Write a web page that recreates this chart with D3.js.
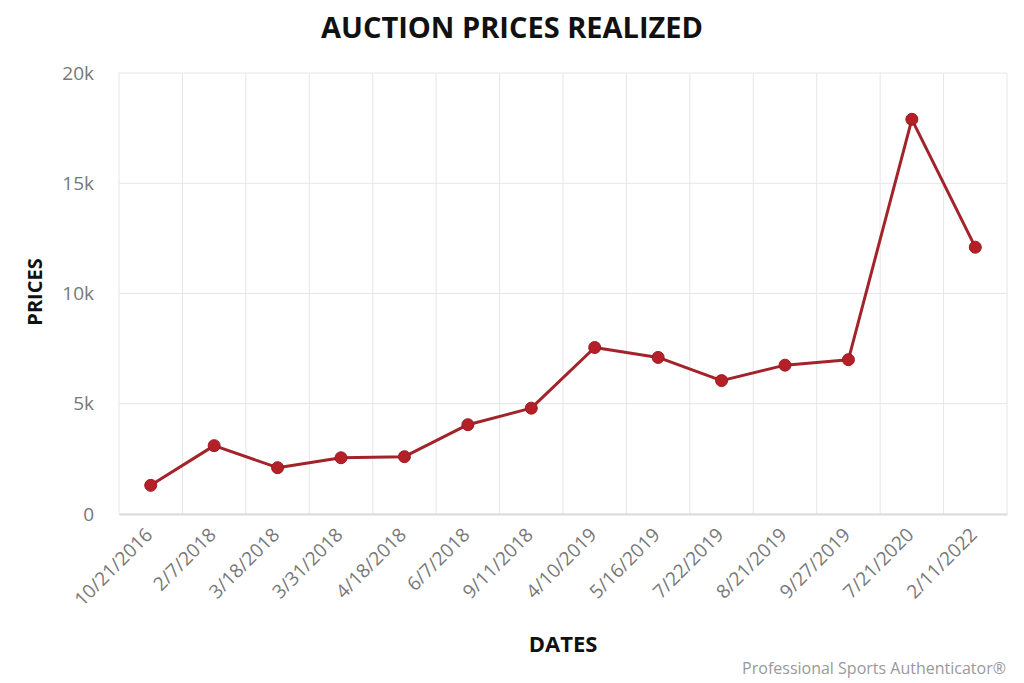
<!DOCTYPE html>
<html><head><meta charset="utf-8">
<script src="https://cdn.jsdelivr.net/npm/d3@7/dist/d3.min.js"></script>
<style>body{margin:0;background:#fff;} svg{display:block;font-family:"Open Sans",sans-serif;}</style>
</head><body>
<script>
const dates = ["10/21/2016","2/7/2018","3/18/2018","3/31/2018","4/18/2018","6/7/2018","9/11/2018","4/10/2019","5/16/2019","7/22/2019","8/21/2019","9/27/2019","7/21/2020","2/11/2022"];
const prices = [1300,3100,2100,2550,2600,4050,4800,7550,7100,6050,6750,7000,17900,12100];
const yTicks = [0,5000,10000,15000,20000];
const yTickLabels = ["0","5k","10k","15k","20k"];

const W=1024,H=683;
const m={l:119,r:17,t:73,b:169};
const svg=d3.select("body").append("svg").attr("width",W).attr("height",H);
const x=d3.scaleBand().domain(dates).range([m.l,W-m.r]);
const y=d3.scaleLinear().domain([0,20000]).range([H-m.b,m.t]);

// horizontal grid
svg.append("g").selectAll("line").data(yTicks).join("line")
  .attr("x1",m.l).attr("x2",W-m.r).attr("y1",d=>y(d)).attr("y2",d=>y(d))
  .attr("stroke","#e6e6e6").attr("stroke-width",1);
// vertical grid at band boundaries
const bounds=dates.map(d=>x(d)).concat([W-m.r]);
svg.append("g").selectAll("line").data(bounds).join("line")
  .attr("x1",d=>d).attr("x2",d=>d).attr("y1",m.t).attr("y2",H-m.b)
  .attr("stroke","#e6e6e6").attr("stroke-width",1);

// x axis
const xa=svg.append("g").attr("transform",`translate(0,${H-m.b})`)
  .call(d3.axisBottom(x).tickSize(0).tickPadding(0));
xa.attr("font-family","Open Sans").attr("font-size",19);
xa.select(".domain").attr("stroke","#dcdcdc").attr("stroke-width",2);
xa.selectAll("text").attr("fill","#777")
  .attr("text-anchor","end").attr("dy",0)
  .attr("transform","translate(3,22) rotate(-45)");

// y axis labels
svg.append("g").attr("font-family","Open Sans").selectAll("text").data(yTicks).join("text")
  .attr("x",94).attr("y",d=>y(d)).attr("dy","0.35em").attr("text-anchor","end")
  .attr("font-size",19).attr("fill","#777").text((d,i)=>yTickLabels[i]);

// line
const line=d3.line().x((d,i)=>x(dates[i])+x.bandwidth()/2).y(d=>y(d));
svg.append("path").datum(prices).attr("d",line).attr("fill","none")
  .attr("stroke","#a3232a").attr("stroke-width",3).attr("stroke-linejoin","round");
svg.append("g").selectAll("circle").data(prices).join("circle")
  .attr("cx",(d,i)=>x(dates[i])+x.bandwidth()/2).attr("cy",d=>y(d)).attr("r",6)
  .attr("fill","#b51f27").attr("stroke","#9a1c22").attr("stroke-width",1);

// titles
svg.append("text").attr("x",512).attr("y",38).attr("text-anchor","middle")
  .attr("font-size",29).attr("font-weight","bold").attr("fill","#111").text("AUCTION PRICES REALIZED");
svg.append("text").attr("transform","translate(42,292) rotate(-90)").attr("text-anchor","middle")
  .attr("font-size",20).attr("font-weight","bold").attr("fill","#111").text("PRICES");
svg.append("text").attr("x",563).attr("y",652).attr("text-anchor","middle")
  .attr("font-size",22).attr("font-weight","bold").attr("fill","#111").text("DATES");
svg.append("text").attr("x",1006).attr("y",674).attr("text-anchor","end")
  .attr("font-size",16).attr("fill","#999").text("Professional Sports Authenticator®");
</script>
</body></html>
